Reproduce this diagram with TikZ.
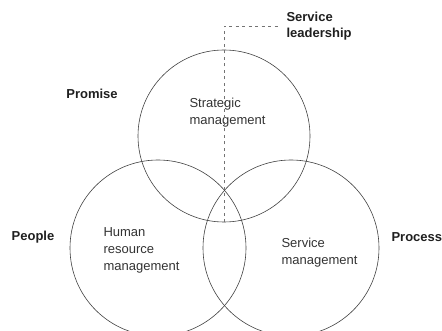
\documentclass[tikz,border=0pt]{standalone}
\usepackage{fontspec}
\setmainfont{Liberation Sans}
\tikzset{
  ring/.style={draw=black!75, line width=0.6pt, circle, minimum size=#1, inner sep=0pt},
  inlabel/.style={anchor=west, align=left, text=black!80, font=\fontsize{13}{17}\selectfont},
  outlabel/.style={align=left, text=black!88, font=\fontsize{13}{16}\selectfont\bfseries},
  lead/.style={draw=black!55, line width=0.8pt, dash pattern=on 3pt off 3.5pt}
}
\begin{document}
\begin{tikzpicture}[x=1pt,y=-1pt]

\useasboundingbox (0,0) rectangle (442,331);

\node[ring=172pt] (top) at (224,136) {};
\node[ring=176pt] (left) at (158,248) {};
\node[ring=176pt] (right) at (291,248) {};

\node[inlabel] (strat) at (186,113) {Strategic\\management};
\node[inlabel] (hrm) at (100,250) {Human\\resource\\management};
\node[inlabel] (svc) at (278,253) {Service\\management};

\node[outlabel] (promise) at (92,94) {Promise};
\node[outlabel] (people) at (33,237) {People};
\node[outlabel, anchor=west] (process) at (388,237) {Process};
\node[outlabel, anchor=west] (leader) at (283,26) {Service\\leadership};

\coordinate (bend) at (top.south |- leader.west);
\draw[lead] (top.south) -- (bend) -- ([xshift=-4pt]leader.west);

\end{tikzpicture}
\end{document}
